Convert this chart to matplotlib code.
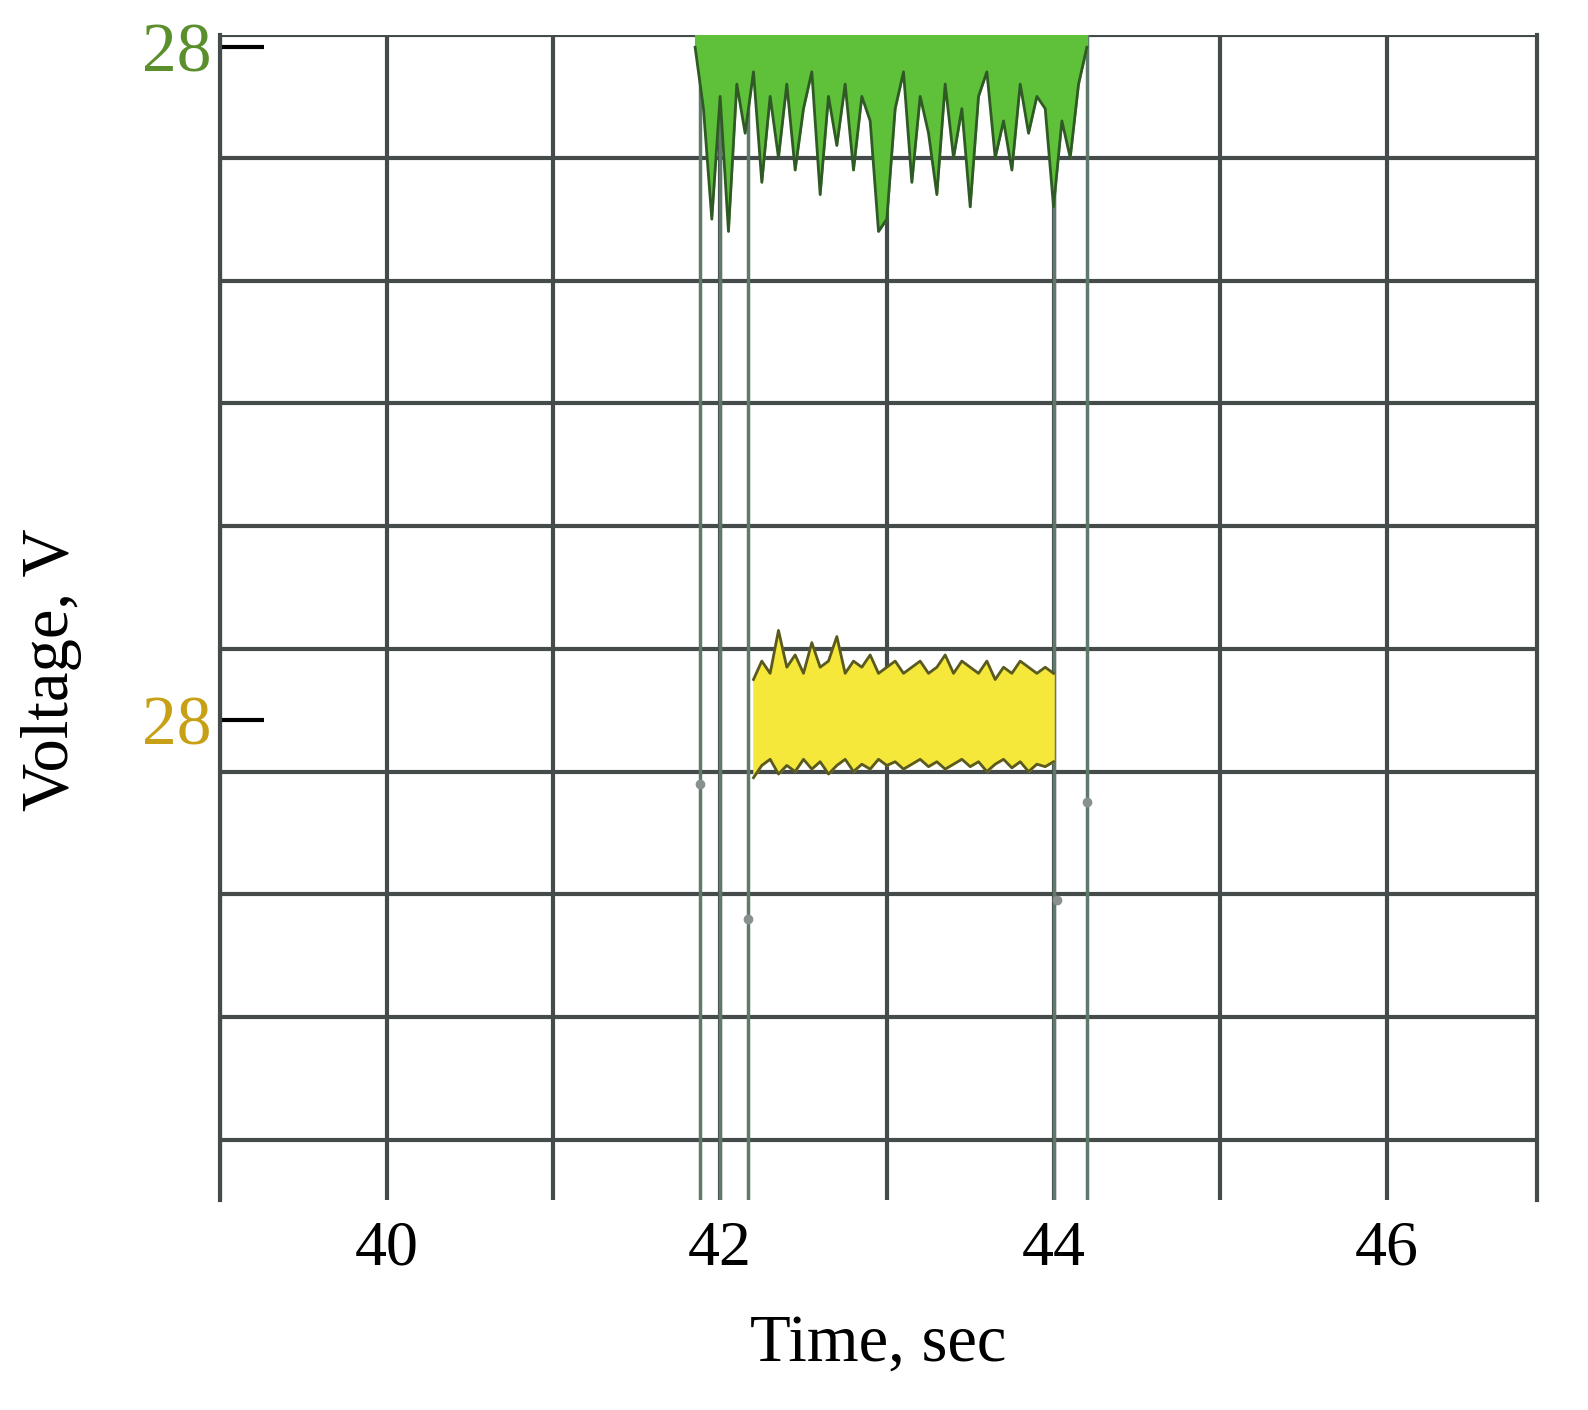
import matplotlib
matplotlib.use("Agg")
import matplotlib.pyplot as plt

# data (grid-units on y; top gridline = 10)
green_t = [41.85,41.9,41.95,42.0,42.05,42.1,42.15,42.2,42.25,42.3,42.35,42.4,42.45,42.5,42.55,42.6,42.65,42.7,
           42.75,42.8,42.85,42.9,42.95,43.0,43.05,43.1,43.15,43.2,43.25,43.3,43.35,43.4,43.45,43.5,43.55,43.6,
           43.65,43.7,43.75,43.8,43.85,43.9,43.95,44.0,44.05,44.1,44.15,44.2]
green_v = [9.9,9.4,8.5,9.5,8.4,9.6,9.2,9.7,8.8,9.5,9.0,9.6,8.9,9.4,9.7,8.7,9.5,9.1,
           9.6,8.9,9.5,9.3,8.4,8.5,9.4,9.7,8.8,9.5,9.2,8.7,9.6,9.0,9.4,8.6,9.5,9.7,
           9.0,9.3,8.9,9.6,9.2,9.5,9.4,8.6,9.3,9.0,9.6,9.9]
yel_t = [42.2,42.25,42.3,42.35,42.4,42.45,42.5,42.55,42.6,42.65,42.7,42.75,42.8,42.85,42.9,42.95,43.0,
         43.05,43.1,43.15,43.2,43.25,43.3,43.35,43.4,43.45,43.5,43.55,43.6,43.65,43.7,43.75,43.8,43.85,43.9,43.95,44.0]
yel_hi = [4.75,4.9,4.8,5.15,4.85,4.95,4.8,5.05,4.85,4.9,5.1,4.8,4.9,4.85,4.95,4.8,4.85,
          4.9,4.8,4.85,4.9,4.8,4.85,4.95,4.8,4.9,4.85,4.8,4.9,4.75,4.85,4.8,4.9,4.85,4.8,4.85,4.8]
yel_lo = [3.95,4.05,4.1,3.98,4.05,4.0,4.1,4.02,4.08,3.98,4.05,4.1,4.0,4.06,4.02,4.1,4.05,
          4.08,4.02,4.06,4.1,4.04,4.08,4.02,4.06,4.1,4.04,4.08,4.0,4.06,4.1,4.03,4.08,4.0,4.06,4.04,4.08]
vlines_t = [41.88, 42.0, 42.17, 44.0, 44.2]
dots_t = [41.88, 42.17, 44.02, 44.2]
dots_v = [3.9, 2.8, 2.95, 3.75]
xtick_vals = [40, 42, 44, 46]
ytick_vals = [9.9, 4.42]
ytick_labels = ["28", "28"]
ytick_colors = ["#5b8f2e", "#c8a015"]

fig = plt.figure(figsize=(15.88, 14.1), dpi=100)
ax = fig.add_axes([220/1588, 1-1200/1410, (1537-220)/1588, (1200-35)/1410])
ax.set_xlim(39, 46.9)
ax.set_ylim(0.51, 10)
gc = "#454a4a"
for x in range(39, 47):
    ax.axvline(x, color=gc, lw=3, zorder=1)
for y in range(1, 11):
    ax.axhline(y, color=gc, lw=3, zorder=1)
for s in ["top", "bottom"]:
    ax.spines[s].set_visible(False)
for s in ["left", "right"]:
    ax.spines[s].set_color(gc); ax.spines[s].set_linewidth(3)

for t in vlines_t:
    ax.axvline(t, color="#5f7a6a", lw=2.5, zorder=2)
ax.plot(dots_t, dots_v, "o", color="#8a9090", ms=6, zorder=3)

ax.fill_between(green_t, green_v, 10, color="#5fc03a", zorder=4)
ax.plot(green_t, green_v, color="#2f5a25", lw=2, zorder=5)
ax.fill_between(yel_t, yel_lo, yel_hi, color="#f5e83a", zorder=4)
ax.plot(yel_t, yel_hi, color="#5a5a20", lw=2, zorder=5)
ax.plot(yel_t, yel_lo, color="#5a5a20", lw=2, zorder=5)

ax.set_xticks(xtick_vals)
ax.set_xticklabels([str(v) for v in xtick_vals], fontsize=46, family="Liberation Serif")
ax.tick_params(axis="x", length=0, pad=15)
ax.set_yticks(ytick_vals)
ax.set_yticklabels(ytick_labels, fontsize=50, family="Liberation Serif")
for lab, c in zip(ax.get_yticklabels(), ytick_colors):
    lab.set_color(c)
ax.tick_params(axis="y", direction="in", length=32, width=3, color="black", pad=6)
ax.set_xlabel("Time, sec", fontsize=48, family="Liberation Serif", labelpad=25)
ax.set_ylabel("Voltage, V", fontsize=48, family="Liberation Serif")
ax.yaxis.set_label_coords(-0.105, 0.455)
fig.savefig("out.png", dpi=100)
